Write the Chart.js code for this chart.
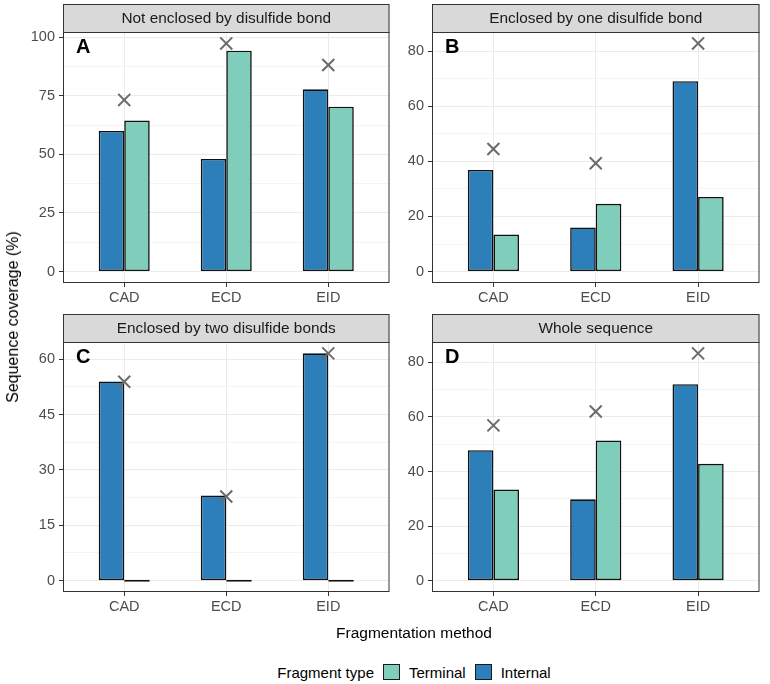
<!DOCTYPE html>
<html>
<head>
<meta charset="utf-8">
<script src="https://cdn.jsdelivr.net/npm/chart.js@4.4.1/dist/chart.umd.min.js"></script>
<style>
  body { margin: 0; background: #fff; font-family: "Liberation Sans", Arial, sans-serif; }
  #wrap { position: relative; width: 770px; height: 684px; overflow: hidden; }
  canvas { position: absolute; }
  #ytitle {
    position: absolute; left: 13px; top: 317px; color: #000; font-size: 16px;
    transform: translate(-50%, -50%) rotate(-90deg); white-space: nowrap;
  }
  #xtitle {
    position: absolute; left: 414px; top: 633px; color: #000; font-size: 15.5px;
    transform: translate(-50%, -50%); white-space: nowrap;
  }
  #legend {
    position: absolute; left: 63px; width: 702px; top: 662px; height: 20px;
    display: flex; justify-content: center; align-items: center; font-size: 15px; color: #000;
  }
  #legend .key { width: 15px; height: 14px; border: 1px solid #1a1a1a; margin: 0 9px 0 9px; }
</style>
</head>
<body>
<div id="wrap">
  <canvas id="pA" width="400" height="305" style="left:0;top:0"></canvas>
  <canvas id="pB" width="370" height="305" style="left:400px;top:0"></canvas>
  <canvas id="pC" width="400" height="320" style="left:0;top:305px"></canvas>
  <canvas id="pD" width="370" height="320" style="left:400px;top:305px"></canvas>
  <div id="ytitle">Sequence coverage (%)</div>
  <div id="xtitle">Fragmentation method</div>
  <div id="legend"></div>
</div>
<script>
// Fragmentation methods (x categories)
const categories = ['CAD', 'ECD', 'EID'];

// panel A: not enclosed by disulfide bond
const internalA = [60.0, 48.0, 77.7];
const terminalA = [64.4, 94.2, 70.3];
const combinedA = [73.2, 97.3, 88.1];
const yTicksA = [0, 25, 50, 75, 100];

// panel B: enclosed by one disulfide bond
const internalB = [36.9, 16.0, 69.1];
const terminalB = [13.5, 24.6, 27.1];
const combinedB = [44.5, 39.3, 82.8];
const yTicksB = [0, 20, 40, 60, 80];

// panel C: enclosed by two disulfide bonds
const internalC = [54.0, 23.1, 61.6];
const terminalC = [0, 0, 0];
const combinedC = [53.9, 22.8, 61.6];
const yTicksC = [0, 15, 30, 45, 60];

// panel D: whole sequence
const internalD = [47.8, 29.8, 72.0];
const terminalD = [33.4, 51.4, 42.8];
const combinedD = [56.9, 62.0, 83.3];
const yTicksD = [0, 20, 40, 60, 80];

const seriesNames = ['Terminal', 'Internal'];
const seriesColors = { Terminal: '#7FCDBB', Internal: '#2C7FB8' };

Chart.defaults.font.family = '"Liberation Sans", Arial, sans-serif';

// strip, panel border and letter
const panelDecor = {
  id: 'panelDecor',
  afterDraw(chart, args, opts) {
    const ctx = chart.ctx;
    const a = chart.chartArea;
    const w = a.right - a.left;
    ctx.save();
    ctx.fillStyle = '#D9D9D9';
    ctx.fillRect(a.left, a.top - 28, w, 28);
    ctx.strokeStyle = '#333333';
    ctx.lineWidth = 1;
    ctx.strokeRect(a.left + 0.5, a.top - 27.5, w - 1, 28);
    ctx.strokeRect(a.left + 0.5, a.top + 0.5, w - 1, a.bottom - a.top - 1);
    ctx.fillStyle = '#1A1A1A';
    ctx.font = '15.4px "Liberation Sans", Arial, sans-serif';
    ctx.textAlign = 'center';
    ctx.textBaseline = 'middle';
    ctx.fillText(opts.title, a.left + w / 2, a.top - 13.5);
    ctx.fillStyle = '#000';
    ctx.font = 'bold 20px "Liberation Sans", Arial, sans-serif';
    ctx.textAlign = 'left';
    ctx.textBaseline = 'alphabetic';
    ctx.fillText(opts.letter, a.left + 13, a.top + 21);
    ctx.restore();
  }
};

function makePanel(id, title, letter, internal, terminal, combined, majors, yWidth, xHeight, padTop, padRight) {
  const all = internal.concat(terminal, combined);
  const top = Math.max(...all);
  const yMin = -0.05 * top;
  const yMax = top * 1.05;
  const step = majors[1] - majors[0];
  const minors = majors.map(v => v + step / 2).filter(v => v <= yMax);
  const pts = vals => vals.map((v, i) => ({ x: i + 1, y: v }));

  new Chart(document.getElementById(id), {
    type: 'bar',
    data: {
      datasets: [
        {
          label: 'Combined',
          type: 'line',
          data: pts(combined),
          showLine: false,
          pointStyle: 'crossRot',
          pointRadius: 8.5,
          borderColor: '#6B6B6B',
          backgroundColor: '#6B6B6B',
          pointBorderWidth: 2,
          order: -1
        },
        {
          label: 'Internal',
          data: pts(internal),
          backgroundColor: seriesColors.Internal,
          borderColor: '#111111',
          borderWidth: 1.6,
          borderSkipped: false,
          minBarLength: 2,
          categoryPercentage: 0.5,
          barPercentage: 1.0
        },
        {
          label: 'Terminal',
          data: pts(terminal),
          backgroundColor: seriesColors.Terminal,
          borderColor: '#111111',
          borderWidth: 1.6,
          borderSkipped: false,
          minBarLength: 2,
          categoryPercentage: 0.5,
          barPercentage: 1.0
        }
      ]
    },
    options: {
      responsive: false,
      animation: false,
      layout: { padding: { top: padTop, right: padRight, left: 0, bottom: 0 } },
      plugins: {
        legend: { display: false },
        tooltip: { enabled: false },
        panelDecor: { title: title, letter: letter }
      },
      scales: {
        x: {
          type: 'linear',
          min: 0.4,
          max: 3.6,
          offset: false,
          afterBuildTicks: s => { s.ticks = categories.map((c, i) => ({ value: i + 1 })); },
          afterFit: s => { s.height = xHeight; },
          border: { display: false },
          grid: { offset: false, color: '#EBEBEB', lineWidth: 1, tickColor: '#333333', tickLength: 4 },
          ticks: {
            color: '#4D4D4D',
            font: { size: 14.5 },
            padding: 2,
            maxRotation: 0,
            callback: v => categories[v - 1]
          }
        },
        y: {
          type: 'linear',
          min: yMin,
          max: yMax,
          afterBuildTicks: s => {
            s.ticks = majors.map(v => ({ value: v, minor: false }))
              .concat(minors.map(v => ({ value: v, minor: true })));
          },
          afterFit: s => { s.width = yWidth; },
          border: { display: false },
          grid: {
            color: c => (c.tick && c.tick.minor) ? '#F4F4F4' : '#EBEBEB',
            lineWidth: 1,
            tickColor: c => (c.tick && c.tick.minor) ? 'rgba(0,0,0,0)' : '#333333',
            tickLength: 4
          },
          ticks: {
            color: '#4D4D4D',
            font: { size: 14.5 },
            padding: 4,
            callback: (v, i, t) => t[i].minor ? '' : String(v)
          }
        }
      }
    },
    plugins: [panelDecor]
  });
}

makePanel('pA', 'Not enclosed by disulfide bond', 'A', internalA, terminalA, combinedA, yTicksA, 63, 22, 32, 2);
makePanel('pB', 'Enclosed by one disulfide bond', 'B', internalB, terminalB, combinedB, yTicksB, 32, 22, 32, 5);
makePanel('pC', 'Enclosed by two disulfide bonds', 'C', internalC, terminalC, combinedC, yTicksC, 63, 33, 37, 2);
makePanel('pD', 'Whole sequence', 'D', internalD, terminalD, combinedD, yTicksD, 32, 33, 37, 5);

// legend
const legend = document.getElementById('legend');
const lt = document.createElement('span');
lt.textContent = 'Fragment type';
legend.appendChild(lt);
seriesNames.forEach(name => {
  const k = document.createElement('span');
  k.className = 'key';
  k.style.background = seriesColors[name];
  legend.appendChild(k);
  const l = document.createElement('span');
  l.textContent = name;
  legend.appendChild(l);
});
</script>
</body>
</html>
